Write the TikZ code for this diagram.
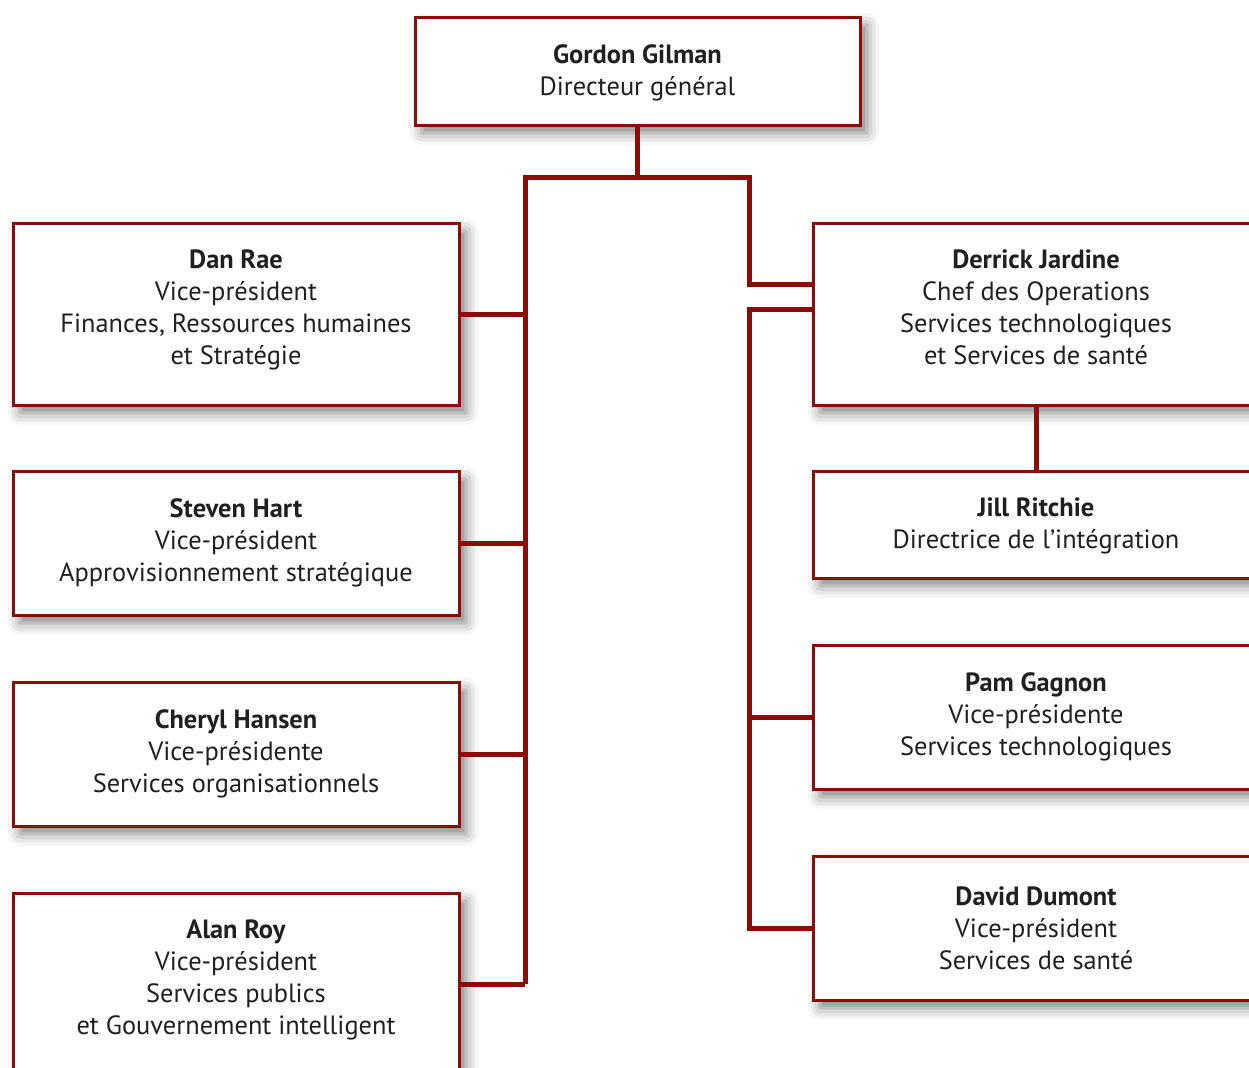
\documentclass[tikz,border=0pt]{standalone}
\usepackage{fontspec}
\setmainfont{PT Sans}
\usepackage{tikz}
\usetikzlibrary{shadows.blur}
\usepackage{xcolor}
\definecolor{orgred}{HTML}{8C0C06}
\definecolor{orgtext}{HTML}{231F20}

\tikzset{
  orgbox/.style={draw=orgred, line width=1.5pt, fill=white, align=center,
    text=orgtext, inner sep=0pt, minimum width=223pt,
    font=\fontsize{13.2}{16}\selectfont,
    blur shadow={shadow xshift=3.5pt, shadow yshift=-4pt, shadow blur radius=6pt,
      shadow opacity=50}},
  tallbox/.style={orgbox, minimum height=91pt, text depth=7pt},
  midbox/.style={orgbox, minimum height=72pt},
  orgline/.style={draw=orgred, line width=2.5pt}
}

\begin{document}
\begin{tikzpicture}[x=0.5pt, y=-0.5pt]
\useasboundingbox (0,0) rectangle (1249,1067);
\clip (0,0) rectangle (1249,1067);

% directeur
\node[orgbox, minimum width=222.5pt, minimum height=54pt, text depth=1pt] (gilman) at (637.5,71)
  {\textbf{Gordon Gilman}\\Directeur général};

% vice-presidents, gauche
\node[tallbox] (rae) at (236,314)
  {\textbf{Dan Rae}\\Vice-président\\Finances, Ressources humaines\\et Stratégie};
\node[midbox] (hart) at (236,543)
  {\textbf{Steven Hart}\\Vice-président\\Approvisionnement stratégique};
\node[midbox] (hansen) at (236,754)
  {\textbf{Cheryl Hansen}\\Vice-présidente\\Services organisationnels};
\node[tallbox] (roy) at (236,984)
  {\textbf{Alan Roy}\\Vice-président\\Services publics\\et Gouvernement intelligent};

% operations, droite
\node[tallbox] (jardine) at (1036,314)
  {\textbf{Derrick Jardine}\\Chef des Operations\\Services technologiques\\et Services de santé};
\node[orgbox, minimum height=53.5pt, text depth=1pt] (ritchie) at (1036,524.5)
  {\textbf{Jill Ritchie}\\Directrice de l’intégration};
\node[midbox] (gagnon) at (1036,717)
  {\textbf{Pam Gagnon}\\Vice-présidente\\Services technologiques};
\node[midbox] (dumont) at (1036,928)
  {\textbf{David Dumont}\\Vice-président\\Services de santé};

\coordinate (busL) at (525,177);
\coordinate (busR) at (749,177);

% liens
\draw[orgline] (gilman.south) -- (gilman.south |- busL);
\draw[orgline] (roy.east -| busL) -- (busL) -- (busR) |- ([yshift=15pt]jardine.west);
\foreach \vp in {rae, hart, hansen, roy}
  \draw[orgline] (\vp.east) -- (\vp.east -| busL);
\draw[orgline] ([yshift=2.5pt]jardine.west) -| (dumont.west -| busR) -- (dumont.west);
\draw[orgline] (gagnon.west) -- (gagnon.west -| busR);
\draw[orgline] (jardine.south) -- (ritchie.north);
\end{tikzpicture}
\end{document}
